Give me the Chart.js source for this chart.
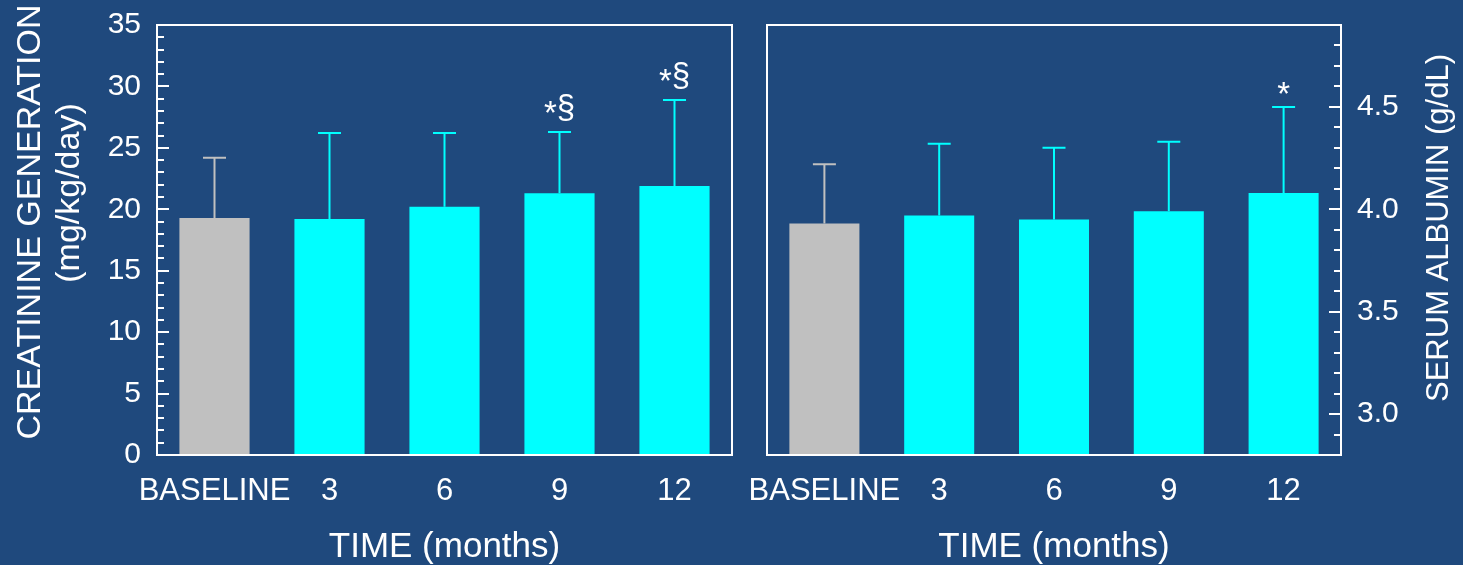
<!DOCTYPE html>
<html>
<head>
<meta charset="utf-8">
<script src="https://cdn.jsdelivr.net/npm/chart.js"></script>
<style>
  html, body { margin: 0; padding: 0; background: #1f497d; }
  #wrap { position: relative; width: 1463px; height: 565px; }
  #leftChart { position: absolute; left: 0; top: 0; }
  #rightChart { position: absolute; left: 745px; top: 0; }
</style>
</head>
<body>
<div id="wrap">
  <canvas id="leftChart" width="745" height="565"></canvas>
  <canvas id="rightChart" width="718" height="565"></canvas>
</div>
<script>
const categories = ["BASELINE", "3", "6", "9", "12"];

const creatinineMean = [19.3, 19.2, 20.2, 21.3, 21.9];
const creatinineSD = [4.9, 7.0, 6.0, 5.0, 7.0];
const creatinineMarks = ["", "", "", "*§", "*§"];
const creatinineTicks = [0, 5, 10, 15, 20, 25, 30, 35];

const albuminMean = [3.93, 3.97, 3.95, 3.99, 4.08];
const albuminSD = [0.29, 0.35, 0.35, 0.34, 0.42];
const albuminMarks = ["", "", "", "", "*"];
const albuminTicks = [3.0, 3.5, 4.0, 4.5];

const creatinineTitle = ["CREATININE GENERATION", "(mg/kg/day)"];
const albuminTitle = "SERUM ALBUMIN (g/dL)";
const timeTitle = "TIME (months)";

const FONT = "'Liberation Sans', Arial, sans-serif";
const GRAY = "#c0c0c0";
const CYAN = "#00ffff";
const barColors = [GRAY, CYAN, CYAN, CYAN, CYAN];

Chart.defaults.font.family = FONT;
Chart.defaults.color = "#ffffff";

// frame, inner tick marks, one-sided error bars, significance marks, y titles
const panelPlugin = {
  id: "panel",
  afterDatasetsDraw(chart, args, opts) {
    const ctx = chart.ctx;
    const y = chart.scales.y;
    const a = chart.chartArea;
    const meta = chart.getDatasetMeta(0);
    ctx.save();

    meta.data.forEach((bar, i) => {
      const top = y.getPixelForValue(opts.mean[i] + opts.sd[i]);
      ctx.strokeStyle = barColors[i];
      ctx.lineWidth = 2;
      ctx.beginPath();
      ctx.moveTo(bar.x, bar.y);
      ctx.lineTo(bar.x, top);
      ctx.moveTo(bar.x - 11.5, top);
      ctx.lineTo(bar.x + 11.5, top);
      ctx.stroke();

      const mark = opts.marks[i];
      if (mark) {
        ctx.fillStyle = "#ffffff";
        ctx.font = "33px " + FONT;
        ctx.textAlign = "left";
        ctx.textBaseline = "alphabetic";
        const star = mark[0];
        const rest = mark.slice(1);
        const w1 = ctx.measureText(star).width;
        const w2 = rest ? ctx.measureText(rest).width : 0;
        const x0 = bar.x - (w1 + w2) / 2;
        ctx.fillText(star, x0, top - opts.starLift);
        if (rest) ctx.fillText(rest, x0 + w1, top - 14);
      }
    });

    // frame
    ctx.strokeStyle = "#ffffff";
    ctx.lineWidth = 2;
    ctx.strokeRect(a.left, a.top, a.right - a.left, a.bottom - a.top);

    // tick marks pointing into the plot
    const edge = opts.side === "left" ? a.left : a.right;
    const dir = opts.side === "left" ? 1 : -1;
    const n = Math.round((y.max - y.min) / opts.minorStep);
    ctx.beginPath();
    for (let k = 1; k < n; k++) {
      const v = y.min + k * opts.minorStep;
      const major = opts.ticks.some(t => Math.abs(t - v) < 1e-6);
      const py = Math.round(y.getPixelForValue(v));
      ctx.moveTo(edge, py);
      ctx.lineTo(edge + dir * (major ? 12 : 7), py);
    }
    ctx.stroke();

    // rotated y titles
    ctx.fillStyle = "#ffffff";
    ctx.textAlign = "center";
    ctx.textBaseline = "alphabetic";
    opts.titles.forEach(t => {
      ctx.save();
      ctx.translate(t.x, t.y);
      ctx.rotate(-Math.PI / 2);
      ctx.font = t.size + "px " + FONT;
      ctx.fillText(t.text, 0, 0);
      ctx.restore();
    });

    ctx.restore();
  }
};

function buildChart(id, cfg) {
  return new Chart(document.getElementById(id), {
    type: "bar",
    data: {
      labels: categories,
      datasets: [{
        data: cfg.mean,
        backgroundColor: barColors,
        borderWidth: 0,
        categoryPercentage: 1,
        barPercentage: 0.61,
      }],
    },
    options: {
      responsive: false,
      animation: false,
      layout: { padding: cfg.padding },
      plugins: {
        legend: { display: false },
        tooltip: { enabled: false },
        panel: {
          mean: cfg.mean,
          sd: cfg.sd,
          marks: cfg.marks,
          ticks: cfg.ticks,
          side: cfg.side,
          minorStep: cfg.minorStep,
          starLift: cfg.starLift,
          titles: cfg.titles,
        },
      },
      scales: {
        x: {
          offset: true,
          grid: { display: false, drawTicks: false },
          border: { display: false },
          ticks: { color: "#ffffff", font: { size: 31 }, padding: 18, maxRotation: 0, autoSkip: false },
          title: { display: true, text: timeTitle, color: "#ffffff", font: { size: 35, lineHeight: 1 }, padding: 0 },
          afterFit(s) { s.height = 110; s.paddingLeft = 0; s.paddingRight = 0; },
        },
        y: {
          position: cfg.side,
          min: cfg.min,
          max: cfg.max,
          grid: { display: false, drawTicks: false },
          border: { display: false },
          ticks: { color: "#ffffff", font: { size: 30 }, padding: 16, callback: cfg.fmt },
          afterBuildTicks(s) { s.ticks = cfg.ticks.map(v => ({ value: v })); },
          afterFit(s) { s.width = cfg.axisWidth; s.paddingTop = 0; s.paddingBottom = 0; },
        },
      },
    },
    plugins: [panelPlugin],
  });
}

buildChart("leftChart", {
  mean: creatinineMean,
  sd: creatinineSD,
  marks: creatinineMarks,
  ticks: creatinineTicks,
  side: "left",
  min: 0,
  max: 35,
  minorStep: 1,
  starLift: 8,
  fmt: v => String(v),
  padding: { left: 0, right: 13, top: 25, bottom: 0 },
  axisWidth: 157,
  titles: [
    { text: creatinineTitle[0], x: 40, y: 222, size: 34 },
    { text: creatinineTitle[1], x: 79, y: 193, size: 34 },
  ],
});

buildChart("rightChart", {
  mean: albuminMean,
  sd: albuminSD,
  marks: albuminMarks,
  ticks: albuminTicks,
  side: "right",
  min: 2.8,
  max: 4.9,
  minorStep: 0.1,
  starLift: 2,
  fmt: v => v.toFixed(1),
  padding: { left: 22, right: 0, top: 25, bottom: 0 },
  axisWidth: 122,
  titles: [
    { text: albuminTitle, x: 703, y: 228, size: 31 },
  ],
});
</script>
</body>
</html>
